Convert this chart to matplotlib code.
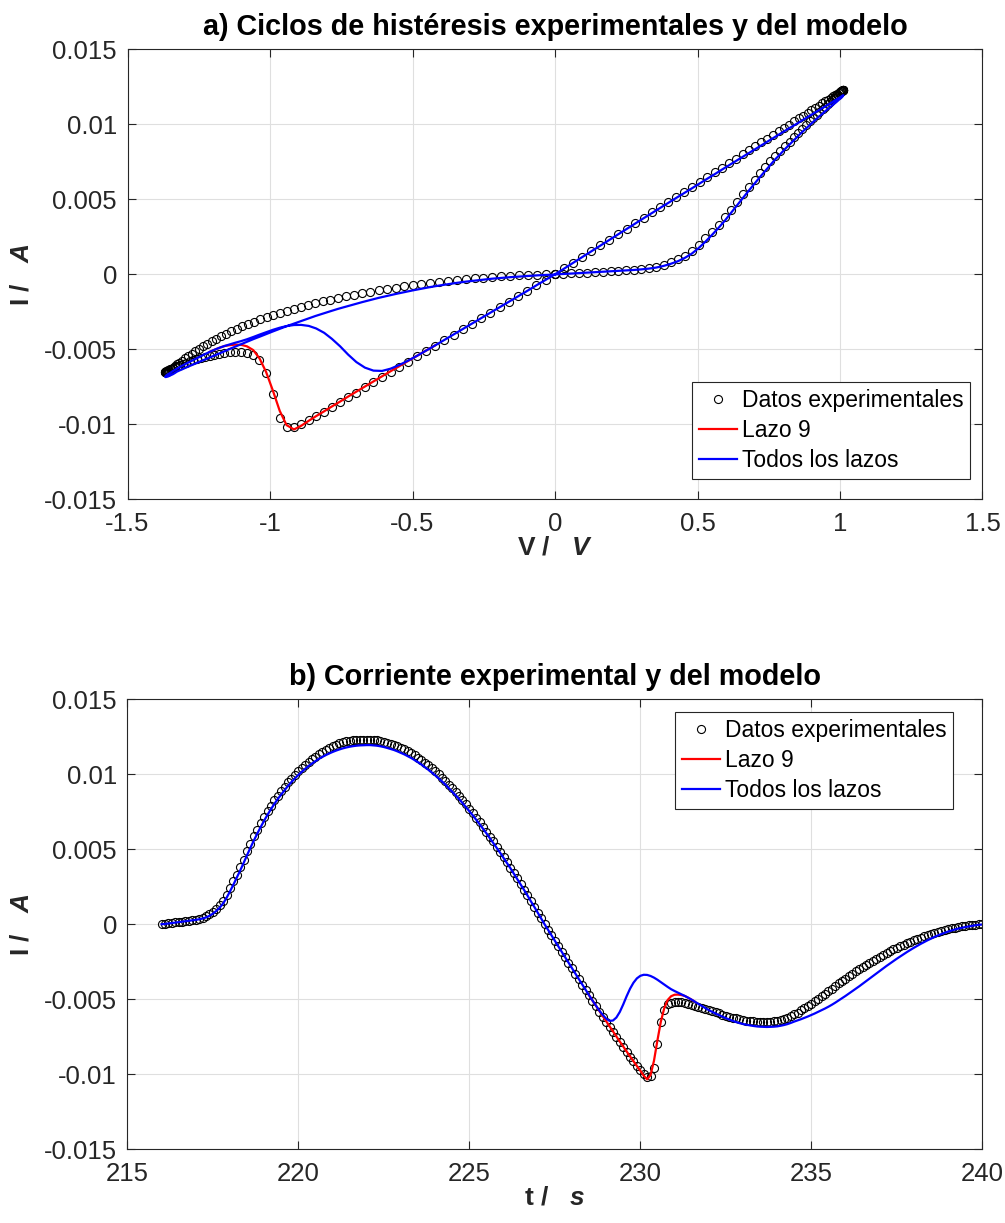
import numpy as np
import matplotlib
matplotlib.use("Agg")
import matplotlib.pyplot as plt
from matplotlib.ticker import FuncFormatter

plt.rcParams['font.family'] = ['Liberation Sans', 'DejaVu Sans']
plt.rcParams['mathtext.fontset'] = 'custom'
plt.rcParams['mathtext.it'] = 'Liberation Sans:italic:bold'
plt.rcParams['mathtext.rm'] = 'Liberation Sans:bold'
plt.rcParams['axes.unicode_minus'] = False

# tiempo de muestreo (s), 0.1 s entre muestras
t = np.linspace(216.0, 240.0, 241)

# tension aplicada (V)
v = [
    0.000, 0.027, 0.055, 0.084, 0.112, 0.140, 0.167, 0.195, 0.222, 0.250,
    0.276, 0.303, 0.329, 0.355, 0.381, 0.406, 0.432, 0.456, 0.480, 0.504,
    0.528, 0.551, 0.574, 0.596, 0.617, 0.639, 0.660, 0.680, 0.700, 0.719,
    0.738, 0.756, 0.773, 0.791, 0.807, 0.823, 0.838, 0.853, 0.867, 0.881,
    0.894, 0.906, 0.918, 0.928, 0.939, 0.948, 0.958, 0.966, 0.973, 0.980,
    0.987, 0.992, 0.997, 1.001, 1.005, 1.008, 1.010, 1.011, 1.012, 1.012,
    1.012, 1.012, 1.010, 1.008, 1.005, 1.001, 0.996, 0.990, 0.984, 0.976,
    0.968, 0.959, 0.949, 0.938, 0.926, 0.914, 0.900, 0.886, 0.871, 0.855,
    0.839, 0.821, 0.803, 0.785, 0.765, 0.745, 0.724, 0.703, 0.680, 0.658,
    0.634, 0.610, 0.585, 0.560, 0.534, 0.508, 0.481, 0.454, 0.426, 0.398,
    0.369, 0.340, 0.311, 0.281, 0.251, 0.220, 0.190, 0.159, 0.127, 0.096,
    0.064, 0.032, 0.000, -0.032, -0.065, -0.097, -0.129, -0.162, -0.194, -0.227,
    -0.259, -0.292, -0.324, -0.356, -0.388, -0.420, -0.452, -0.483, -0.515, -0.546,
    -0.577, -0.607, -0.637, -0.667, -0.697, -0.726, -0.754, -0.783, -0.810, -0.838,
    -0.864, -0.891, -0.916, -0.942, -0.966, -0.990, -1.014, -1.037, -1.059, -1.081,
    -1.101, -1.122, -1.141, -1.160, -1.178, -1.195, -1.212, -1.227, -1.242, -1.256,
    -1.270, -1.282, -1.294, -1.305, -1.315, -1.324, -1.332, -1.340, -1.346, -1.352,
    -1.357, -1.361, -1.364, -1.366, -1.367, -1.368, -1.368, -1.366, -1.364, -1.361,
    -1.358, -1.353, -1.348, -1.341, -1.334, -1.327, -1.318, -1.308, -1.298, -1.287,
    -1.275, -1.263, -1.249, -1.235, -1.221, -1.205, -1.189, -1.172, -1.154, -1.136,
    -1.117, -1.097, -1.077, -1.056, -1.034, -1.012, -0.989, -0.966, -0.942, -0.917,
    -0.892, -0.867, -0.841, -0.815, -0.788, -0.761, -0.733, -0.705, -0.676, -0.648,
    -0.619, -0.589, -0.559, -0.529, -0.499, -0.469, -0.438, -0.407, -0.376, -0.345,
    -0.314, -0.282, -0.251, -0.220, -0.188, -0.157, -0.125, -0.094, -0.062, -0.031,
    0.000,
]

# corriente medida (mA)
i_exp_ma = [
    0.00, 0.03, 0.06, 0.09, 0.12, 0.15, 0.18, 0.21, 0.24, 0.27,
    0.31, 0.36, 0.42, 0.52, 0.65, 0.82, 1.02, 1.25, 1.55, 1.95,
    2.40, 2.85, 3.30, 3.80, 4.30, 4.85, 5.35, 5.85, 6.30, 6.75,
    7.15, 7.55, 7.90, 8.25, 8.55, 8.85, 9.15, 9.45, 9.70, 9.95,
    10.20, 10.42, 10.62, 10.82, 11.00, 11.17, 11.33, 11.48, 11.62, 11.75,
    11.87, 11.97, 12.06, 12.13, 12.19, 12.24, 12.27, 12.29, 12.30, 12.31,
    12.30, 12.30, 12.27, 12.25, 12.21, 12.16, 12.10, 12.03, 11.96, 11.86,
    11.76, 11.65, 11.53, 11.40, 11.25, 11.11, 10.94, 10.76, 10.58, 10.39,
    10.19, 9.98, 9.76, 9.54, 9.29, 9.05, 8.80, 8.54, 8.26, 7.99,
    7.70, 7.41, 7.11, 6.80, 6.49, 6.17, 5.84, 5.52, 5.18, 4.84,
    4.48, 4.13, 3.78, 3.41, 3.05, 2.67, 2.31, 1.93, 1.54, 1.17,
    0.78, 0.39, 0.00, -0.36, -0.73, -1.10, -1.46, -1.83, -2.19, -2.57,
    -2.93, -3.30, -3.66, -4.02, -4.38, -4.75, -5.11, -5.46, -5.82, -6.17,
    -6.52, -6.86, -7.20, -7.54, -7.88, -8.20, -8.52, -8.85, -9.15, -9.47,
    -9.72, -10.00, -10.20, -10.15, -9.60, -8.00, -6.55, -5.70, -5.35, -5.22,
    -5.20, -5.18, -5.20, -5.26, -5.33, -5.38, -5.45, -5.52, -5.58, -5.64,
    -5.72, -5.80, -5.88, -5.95, -6.02, -6.09, -6.16, -6.22, -6.28, -6.33,
    -6.38, -6.42, -6.45, -6.48, -6.50, -6.51, -6.52, -6.52, -6.51, -6.48,
    -6.44, -6.38, -6.31, -6.22, -6.12, -6.01, -5.89, -5.75, -5.61, -5.46,
    -5.30, -5.14, -4.97, -4.80, -4.63, -4.46, -4.29, -4.12, -3.95, -3.78,
    -3.62, -3.46, -3.30, -3.15, -3.00, -2.85, -2.71, -2.57, -2.43, -2.30,
    -2.17, -2.04, -1.92, -1.80, -1.68, -1.57, -1.46, -1.36, -1.26, -1.16,
    -1.07, -0.98, -0.89, -0.81, -0.73, -0.65, -0.58, -0.51, -0.44, -0.38,
    -0.32, -0.27, -0.22, -0.17, -0.13, -0.10, -0.07, -0.04, -0.02, -0.01,
    0.00,
]

# modelo ajustado con todos los lazos (mA)
i_todos_ma = [
    0.00, 0.02, 0.05, 0.08, 0.11, 0.14, 0.17, 0.20, 0.23, 0.26,
    0.29, 0.33, 0.38, 0.45, 0.56, 0.70, 0.88, 1.10, 1.38, 1.75,
    2.18, 2.63, 3.10, 3.58, 4.08, 4.60, 5.10, 5.58, 6.04, 6.48,
    6.90, 7.30, 7.67, 8.02, 8.35, 8.65, 8.94, 9.22, 9.48, 9.72,
    9.95, 10.16, 10.36, 10.54, 10.71, 10.87, 11.02, 11.15, 11.27, 11.38,
    11.48, 11.57, 11.65, 11.72, 11.78, 11.83, 11.87, 11.90, 11.92, 11.93,
    11.94, 11.94, 11.92, 11.90, 11.86, 11.81, 11.75, 11.68, 11.61, 11.52,
    11.42, 11.32, 11.20, 11.08, 10.94, 10.80, 10.64, 10.47, 10.30, 10.12,
    9.93, 9.73, 9.52, 9.31, 9.07, 8.84, 8.60, 8.35, 8.08, 7.82,
    7.54, 7.26, 6.97, 6.67, 6.37, 6.06, 5.74, 5.43, 5.10, 4.77,
    4.42, 4.08, 3.74, 3.38, 3.02, 2.65, 2.29, 1.92, 1.53, 1.16,
    0.77, 0.38, 0.00, -0.36, -0.73, -1.10, -1.46, -1.83, -2.19, -2.56,
    -2.92, -3.29, -3.65, -4.01, -4.37, -4.73, -5.08, -5.42, -5.75, -6.04,
    -6.29, -6.44, -6.42, -6.22, -5.85, -5.35, -4.80, -4.30, -3.90, -3.61,
    -3.44, -3.37, -3.38, -3.45, -3.56, -3.70, -3.86, -4.02, -4.18, -4.33,
    -4.45, -4.56, -4.67, -4.78, -4.90, -5.03, -5.17, -5.31, -5.45, -5.59,
    -5.72, -5.84, -5.95, -6.06, -6.16, -6.26, -6.35, -6.44, -6.52, -6.59,
    -6.65, -6.70, -6.74, -6.78, -6.81, -6.83, -6.84, -6.85, -6.84, -6.83,
    -6.81, -6.77, -6.72, -6.66, -6.58, -6.49, -6.41, -6.33, -6.24, -6.15,
    -6.05, -5.95, -5.84, -5.73, -5.62, -5.50, -5.37, -5.23, -5.08, -4.93,
    -4.78, -4.62, -4.46, -4.30, -4.14, -3.97, -3.80, -3.63, -3.46, -3.29,
    -3.12, -2.95, -2.78, -2.62, -2.46, -2.30, -2.15, -2.00, -1.85, -1.71,
    -1.57, -1.44, -1.31, -1.19, -1.07, -0.96, -0.85, -0.75, -0.66, -0.57,
    -0.49, -0.42, -0.35, -0.29, -0.24, -0.19, -0.15, -0.11, -0.07, -0.04,
    -0.02,
]

# modelo del lazo 9 (mA), desde t = 228.5 s hasta 231.6 s
lazo9_ini = 125
i_lazo9_ma = [
    -4.73, -5.08, -5.42, -5.77, -6.12, -6.46, -6.80, -7.14, -7.48, -7.82,
    -8.15, -8.48, -8.81, -9.13, -9.45, -9.76, -10.10, -10.34, -10.05, -9.10,
    -7.75, -6.50, -5.60, -5.05, -4.80, -4.70, -4.69, -4.72, -4.78, -4.90,
    -5.03, -5.17,
]

v = np.array(v)
i_exp = np.array(i_exp_ma) / 1000
i_todos = np.array(i_todos_ma) / 1000
i_lazo9 = np.array(i_lazo9_ma) / 1000
sl = slice(lazo9_ini, lazo9_ini + len(i_lazo9))

gris = '#262626'
fmt = FuncFormatter(lambda x, p: '%g' % (round(x, 6) + 0.0))


def estilo(ax, titulo, xlab, ylab):
    ax.grid(True, color='#dfdfdf', linewidth=0.8)
    ax.set_axisbelow(True)
    ax.tick_params(direction='in', length=5.5, width=0.8, top=True, right=True,
                   labelsize=18.5, colors=gris)
    ax.tick_params(axis='x', pad=9)
    ax.tick_params(axis='y', pad=7.5)
    for s in ax.spines.values():
        s.set_color(gris)
        s.set_linewidth(0.8)
    ax.xaxis.set_major_formatter(fmt)
    ax.yaxis.set_major_formatter(fmt)
    ax.set_ylim(-0.015, 0.015)
    ax.set_yticks([-0.015, -0.01, -0.005, 0, 0.005, 0.01, 0.015])
    ax.set_title(titulo, fontsize=20.7, fontweight='bold', pad=10)
    ax.set_xlabel(xlab, fontsize=19, fontweight='bold', color=gris)
    ax.set_ylabel(ylab, fontsize=19, fontweight='bold', color=gris)
    ax.xaxis.set_label_coords(0.5, -0.08)
    ax.yaxis.set_label_coords(-0.11, 0.5)


def curvas(ax, x):
    ax.plot(x, i_exp, 'o', mfc='none', mec='black', ms=5.8, mew=0.8,
            label='Datos experimentales')
    ax.plot(x[sl], i_lazo9, color='red', lw=1.6, label='Lazo 9')
    ax.plot(x, i_todos, color='blue', lw=1.6, label='Todos los lazos')


def leyenda(ax, loc, anchor):
    leg = ax.legend(loc=loc, bbox_to_anchor=anchor, fontsize=16.5,
                    fancybox=False, edgecolor=gris, framealpha=1, borderaxespad=0,
                    handlelength=1.65, handletextpad=0.2, labelspacing=0.32,
                    borderpad=0.3)
    leg.get_frame().set_linewidth(0.8)


fig = plt.figure(figsize=(10.05, 12.23), dpi=100)
ax1 = fig.add_axes([0.1269, 0.5917, 0.8507, 0.3680])
ax2 = fig.add_axes([0.1267, 0.0603, 0.8507, 0.3680])

# a) ciclo I-V
curvas(ax1, v)
ax1.set_xlim(-1.5, 1.5)
ax1.set_xticks([-1.5, -1, -0.5, 0, 0.5, 1, 1.5])
estilo(ax1, 'a) Ciclos de histéresis experimentales y del modelo',
       'V /   $V$', 'I /   $A$')
leyenda(ax1, 'lower right', (0.9854, 0.0444))

# b) corriente en el tiempo
curvas(ax2, t)
ax2.set_xlim(215, 240)
ax2.set_xticks([215, 220, 225, 230, 235, 240])
estilo(ax2, 'b) Corriente experimental y del modelo', 't /   $s$', 'I /   $A$')
leyenda(ax2, 'upper right', (0.966, 0.972))

fig.savefig('out.png', dpi=100)
